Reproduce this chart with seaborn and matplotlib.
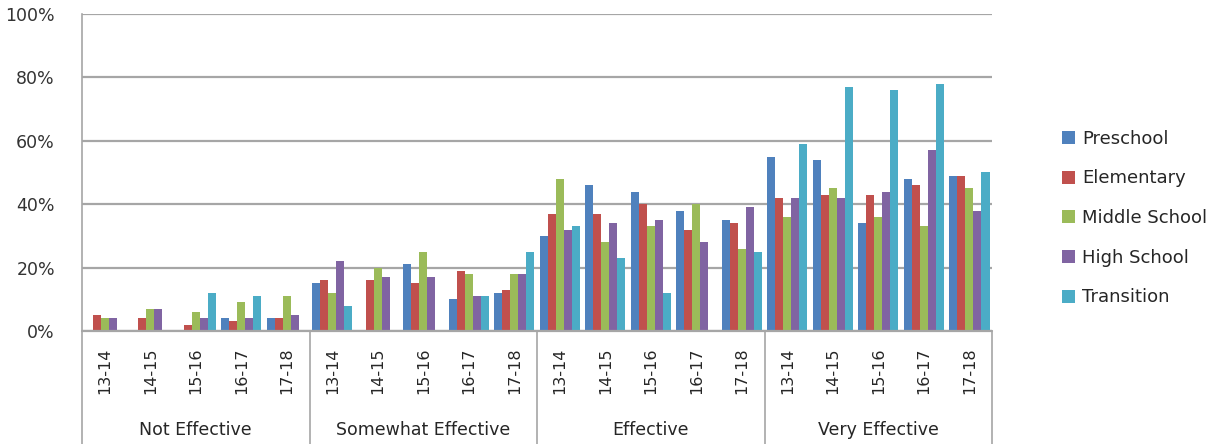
import pandas as pd
import seaborn as sns
import matplotlib.pyplot as plt
from matplotlib.lines import Line2D

# Chart values
groups = ["Not Effective", "Somewhat Effective", "Effective", "Very Effective"]
years = ["13-14", "14-15", "15-16", "16-17", "17-18"]
series = ["Preschool", "Elementary", "Middle School", "High School", "Transition"]

preschool = [0, 0, 0, 4, 4, 15, 0, 21, 10, 12, 30, 46, 44, 38, 35, 55, 54, 34, 48, 49]
elementary = [5, 4, 2, 3, 4, 16, 16, 15, 19, 13, 37, 37, 40, 32, 34, 42, 43, 43, 46, 49]
middle = [4, 7, 6, 9, 11, 12, 20, 25, 18, 18, 48, 28, 33, 40, 26, 36, 45, 36, 33, 45]
high = [4, 7, 4, 4, 5, 22, 17, 17, 11, 18, 32, 34, 35, 28, 39, 42, 42, 44, 57, 38]
transition = [0, 0, 12, 11, 0, 8, 0, 0, 11, 25, 33, 23, 12, 0, 25, 59, 77, 76, 78, 50]

colors = ["#4F81BD", "#C0504D", "#9BBB59", "#8064A2", "#4BACC6"]

# long table for seaborn
slots = [g + "|" + y for g in groups for y in years]
rows = []
for name, vals in zip(series, [preschool, elementary, middle, high, transition]):
    for slot, v in zip(slots, vals):
        rows.append({"slot": slot, "series": name, "value": v})
df = pd.DataFrame(rows)

sns.set_style("white")
plt.rcParams["font.family"] = ["DejaVu Sans"]

fig = plt.figure(figsize=(12.13, 4.44), dpi=100)
ax = fig.add_axes([0.0676, 0.2545, 0.7504, 0.714])

sns.barplot(data=df, x="slot", y="value", hue="series", order=slots,
            hue_order=series, palette=colors, width=0.88, linewidth=0,
            saturation=1, ax=ax)

ax.set_ylim(0, 100)
ax.set_xlim(-0.5, len(slots) - 0.5)
ax.set_yticks(range(0, 101, 20))
ax.set_yticklabels([f"{t}%" for t in range(0, 101, 20)], fontsize=12.5, color="#333333")
ax.tick_params(axis="y", length=0, pad=19.5)
ax.grid(axis="y", color="#A6A6A6", linewidth=1.6)
ax.set_axisbelow(True)
for s in ["top", "right", "bottom"]:
    ax.spines[s].set_visible(False)
ax.spines["left"].set_color("#A6A6A6")
ax.spines["left"].set_linewidth(1.2)
ax.set_xlabel("")
ax.set_ylabel("")

# year labels rotated under each cluster
ax.set_xticks(range(len(slots)))
ax.set_xticklabels(years * len(groups), rotation=90, fontsize=11.5, color="#262626")
ax.tick_params(axis="x", length=0, pad=12)

# group labels and separators below the axis
n = len(years)
for i, g in enumerate(groups):
    ax.text(i * n + (n - 1) / 2, -0.312, g, transform=ax.get_xaxis_transform(),
            ha="center", va="center", fontsize=12.5, color="#262626")
for i in range(len(groups) + 1):
    xs = i * n - 0.5
    ax.add_line(Line2D([xs, xs], [0, -0.36], transform=ax.get_xaxis_transform(),
                       color="#A6A6A6", linewidth=1.2, clip_on=False))
ax.add_line(Line2D([-0.5, len(slots) - 0.5], [0, 0], transform=ax.get_xaxis_transform(),
                   color="#A6A6A6", linewidth=1.6, clip_on=False))

leg = ax.legend(loc="center left", bbox_to_anchor=(1.067, 0.356), frameon=False,
                fontsize=13, labelspacing=1.2, handlelength=0.72, borderpad=0,
                handleheight=0.72, handletextpad=0.4)
for t in leg.get_texts():
    t.set_color("#262626")

fig.savefig("out.png", dpi=100)
